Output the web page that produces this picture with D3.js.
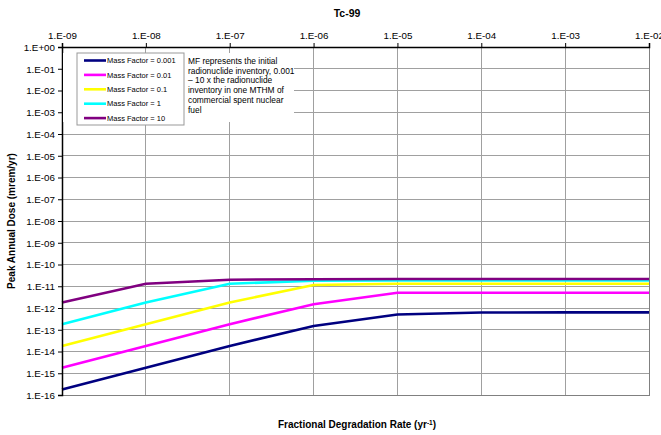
<!DOCTYPE html>
<html><head><meta charset="utf-8">
<script src="https://cdn.jsdelivr.net/npm/d3@7"></script>
<style>body{margin:0;background:#fff}svg{display:block;font-family:"Liberation Sans",Arial,sans-serif}</style>
</head><body><svg id="c" width="661" height="435"></svg>
<script>
const rates = [1e-9,1e-8,1e-7,1e-6,1e-5,1e-4,1e-3,1e-2];
const seriesNames = ["Mass Factor = 0.001","Mass Factor = 0.01","Mass Factor = 0.1","Mass Factor = 1","Mass Factor = 10"];
const seriesColors = ["#000080","#FF00FF","#FFFF00","#00FFFF","#800080"];
const mf0001 = [1.8e-16,1.8e-15,1.8e-14,1.5e-13,5.0e-13,6.2e-13,6.3e-13,6.3e-13];
const mf001  = [1.8e-15,1.8e-14,1.8e-13,1.5e-12,5.0e-12,5.0e-12,5.0e-12,5.0e-12];
const mf01   = [1.8e-14,1.8e-13,1.8e-12,1.15e-11,1.3e-11,1.3e-11,1.3e-11,1.3e-11];
const mf1    = [1.8e-13,1.8e-12,1.3e-11,1.8e-11,1.85e-11,1.85e-11,1.85e-11,1.85e-11];
const mf10   = [1.8e-12,1.3e-11,2.0e-11,2.1e-11,2.15e-11,2.15e-11,2.15e-11,2.15e-11];
const seriesValues = [mf0001,mf001,mf01,mf1,mf10];
const xTicks = [1e-9,1e-8,1e-7,1e-6,1e-5,1e-4,1e-3,1e-2];
const yTicks = d3.range(0,17).map(i=>Math.pow(10,-i));
const title = "Tc-99";
const xLabel = "Fractional Degradation Rate (yr";
const yLabel = "Peak Annual Dose (mrem/yr)";
const note = ["MF represents the initial","radionuclide inventory, 0.001","\u2013 10 x the radionuclide","inventory in one MTHM of","commercial spent nuclear","fuel"];

const fmt = v => { const e = Math.round(Math.log10(v)); return "1.E" + (e>=0?"+":"-") + String(Math.abs(e)).padStart(2,"0"); };

const L=62,R=649,T=47,B=395;
const svg = d3.select("#c");
const x = d3.scaleLog().domain([1e-9,1e-2]).range([L,R]);
const y = d3.scaleLog().domain([1e-16,1]).range([B,T]);

// gridlines
svg.append("g").selectAll("line").data(yTicks).join("line")
  .attr("x1",L).attr("x2",R).attr("y1",d=>y(d)).attr("y2",d=>y(d))
  .attr("stroke","#a0a0a0").attr("stroke-width",1).attr("shape-rendering","crispEdges");
svg.append("g").selectAll("line").data(xTicks).join("line")
  .attr("y1",T).attr("y2",B).attr("x1",d=>x(d)).attr("x2",d=>x(d))
  .attr("stroke","#a0a0a0").attr("stroke-width",1).attr("shape-rendering","crispEdges");
svg.append("rect").attr("x",L).attr("y",T).attr("width",R-L).attr("height",B-T)
  .attr("fill","none").attr("stroke","#808080").attr("shape-rendering","crispEdges");

// lines
const line = d3.line().x((d,i)=>x(rates[i])).y(d=>y(d));
svg.append("g").selectAll("path").data(seriesValues).join("path")
  .attr("d",line).attr("fill","none").attr("stroke",(d,i)=>seriesColors[i])
  .attr("stroke-width",2.6).attr("stroke-linejoin","miter");

// axes
const yAxis = d3.axisLeft(y).tickValues(yTicks).tickFormat(fmt).tickSize(4).tickPadding(3);
const gy = svg.append("g").attr("transform",`translate(${L},0)`).call(yAxis);
const xAxis = d3.axisTop(x).tickValues(xTicks).tickFormat(fmt).tickSize(4).tickPadding(4);
const gx = svg.append("g").attr("transform",`translate(0,${T})`).call(xAxis);
[gy,gx].forEach(g=>{
  g.select(".domain").attr("stroke","#000").attr("stroke-width",1.5);
  g.selectAll(".tick line").attr("stroke","#000");
  g.selectAll("text").attr("font-size",9.8).attr("fill","#000").attr("font-family","Liberation Sans, Arial, sans-serif");
});
gy.selectAll("text").attr("dy","0.35em");

// note box
svg.append("rect").attr("x",L+1).attr("y",53).attr("width",231).attr("height",69).attr("fill","#fff");
// legend box
svg.append("rect").attr("x",77).attr("y",53).attr("width",107).attr("height",72)
  .attr("fill","#fff").attr("stroke","#999");
const lg = svg.append("g").selectAll("g").data(seriesNames).join("g")
  .attr("transform",(d,i)=>`translate(84,${60.5+i*14.4})`);
lg.append("line").attr("x1",0).attr("x2",22).attr("stroke",(d,i)=>seriesColors[i]).attr("stroke-width",2.6);
lg.append("text").attr("x",23).attr("dy","0.35em").attr("font-size",7.5).text(d=>d);

svg.append("g").selectAll("text").data(note).join("text")
  .attr("x",188).attr("y",(d,i)=>64+i*9.7).attr("font-size",8.4).text(d=>d);

// titles
svg.append("text").attr("x",347).attr("y",17).attr("text-anchor","middle")
  .attr("font-weight","bold").attr("font-size",10.5).text(title);
const xl = svg.append("text").attr("x",357).attr("y",428).attr("text-anchor","middle")
  .attr("font-weight","bold").attr("font-size",10);
xl.append("tspan").text(xLabel);
xl.append("tspan").attr("dy",-3.5).attr("font-size",6.5).text("-1");
xl.append("tspan").attr("dy",3.5).text(")");
svg.append("text").attr("transform","translate(15,221) rotate(-90)").attr("text-anchor","middle")
  .attr("font-weight","bold").attr("font-size",10).text(yLabel);
</script></body></html>
